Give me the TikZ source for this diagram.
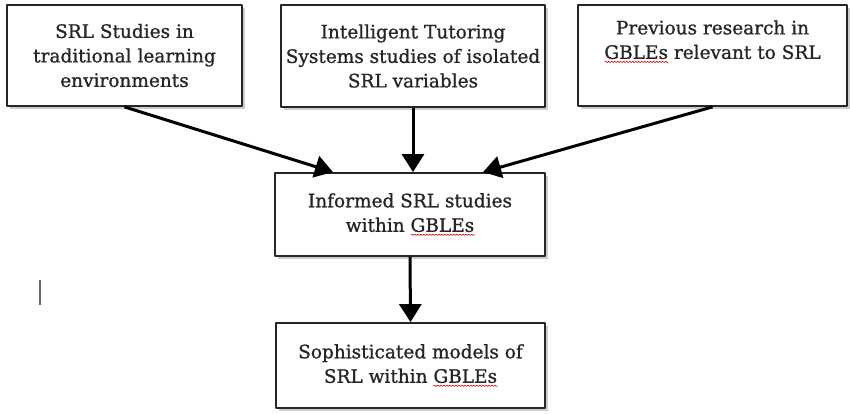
\documentclass[tikz,border=0pt]{standalone}
\usepackage{fontspec}
\setmainfont{DejaVu Serif}[FakeBold=1]
\usetikzlibrary{arrows.meta,shadows,decorations.pathmorphing}
\newlength\spellw
\newcommand\spellmark[1]{\settowidth\spellw{#1}\rlap{\raisebox{-4pt}{\tikz\draw[red!80!black, line width=.6pt, decorate, decoration={snake, amplitude=.7pt, segment length=3pt}] (0pt,0pt) -- (\spellw,0pt);}}#1}
\begin{document}
\begin{tikzpicture}[x=1pt,y=-1pt,>={Triangle[width=22pt,length=18pt]}, font=\fontsize{18.5}{24.5}\selectfont, line join=round,
	box/.style={draw=black!85, line width=1.8pt, fill=white, align=center, text=black!85, inner sep=0pt,
		drop shadow={shadow xshift=2.5pt, shadow yshift=-3pt, opacity=.4, fill=black!50}},
	link/.style={->, line width=3pt}]
\useasboundingbox (0,0) rectangle (850,413);
\node[box, minimum width=235pt, minimum height=101pt] (srl) at (124.5,55.5) {SRL Studies in\\ traditional learning\\ environments};
\node[box, minimum width=264pt, minimum height=102pt] (its) at (413,56) {Intelligent Tutoring\\ Systems studies of isolated\\ SRL variables};
\node[box, minimum width=269pt, minimum height=101pt] (prev) at (712.5,55.5) {Previous research in\\ \spellmark{GBLEs} relevant to SRL\\ \strut};
\node[box, minimum width=270pt, minimum height=83pt] (informed) at (410,214.5) {Informed SRL studies\\ within \spellmark{GBLEs}};
\node[box, minimum width=269pt, minimum height=85pt] (models) at (410.5,365.5) {Sophisticated models of\\ SRL within \spellmark{GBLEs}};
% arrows
\draw[link] (srl.south) -- ([xshift=-77pt]informed.north);
\draw[link] (its.south) -- ([xshift=3pt]informed.north);
\draw[link] (prev.south) -- ([xshift=73pt]informed.north);
\draw[link] (informed.south) -- (models.north);
% cursor
\draw[black!60, line width=1.2pt] (40,280) -- (40,305);
\end{tikzpicture}
\end{document}
